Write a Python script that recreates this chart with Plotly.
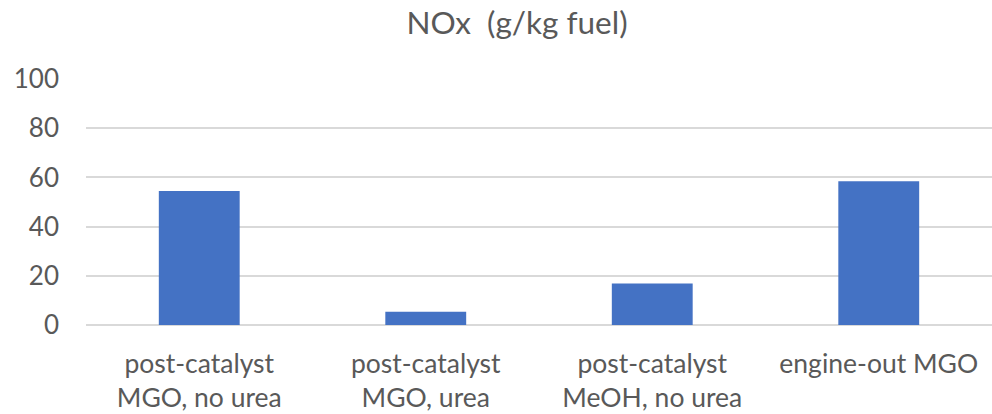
import plotly.graph_objects as go

categories = ["post-catalyst<br>MGO, no urea", "post-catalyst<br>MGO, urea",
              "post-catalyst<br>MeOH, no urea", "engine-out MGO"]
values = [54.5, 5.4, 16.9, 58.4]
y_ticks = [0, 20, 40, 60, 80, 100]

FONT = "Lato, 'Open Sans', sans-serif"
GREY = "#595959"

fig = go.Figure(go.Bar(x=categories, y=values, marker=dict(color="#4472C4", line=dict(width=0))))

fig.update_layout(
    width=992, height=414,
    margin=dict(l=86, r=0, t=79, b=89),
    paper_bgcolor="white", plot_bgcolor="white",
    bargap=0.643,
    showlegend=False,
    title=dict(text="NOx  (g/kg fuel)", x=(517 - 86) / 906, xref="paper", xanchor="center",
               y=1 - 23 / 414, yref="container",
               yanchor="middle", font=dict(family=FONT, size=31.5, color=GREY)),
    font=dict(family=FONT, color=GREY),
)
fig.update_xaxes(showgrid=False, showline=False, ticks="", tickfont=dict(size=26.5, color=GREY),
                 ticklabelstandoff=20)
fig.update_yaxes(range=[0, 100], tickvals=y_ticks, showgrid=True, gridcolor="#D9D9D9", gridwidth=1.5,
                 zeroline=True, zerolinecolor="#D9D9D9", zerolinewidth=1.5, showline=False,
                 ticks="", tickfont=dict(size=26, color=GREY), ticklabelstandoff=26)

fig.write_html("out.html")
